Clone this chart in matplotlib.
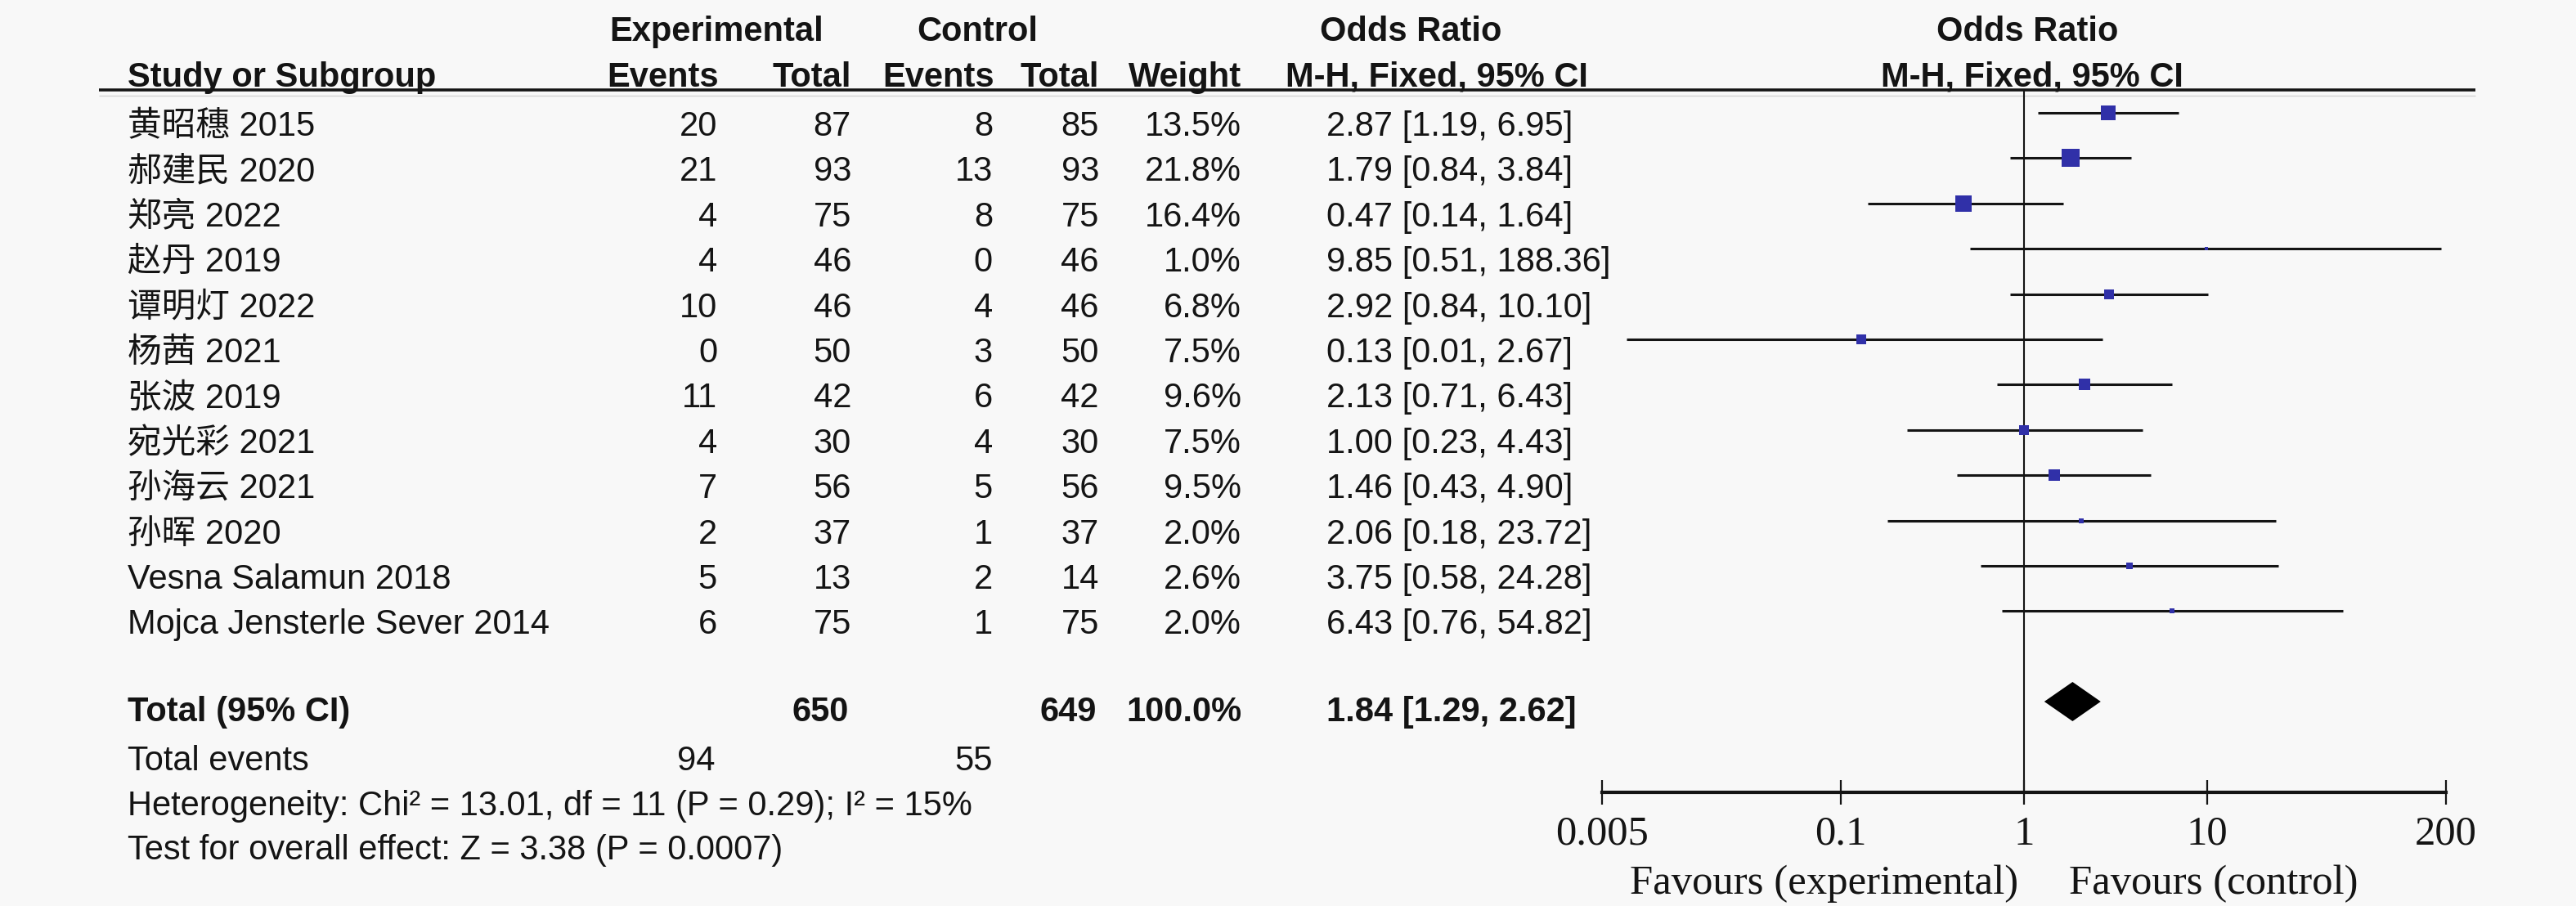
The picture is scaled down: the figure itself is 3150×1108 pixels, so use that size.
import matplotlib
matplotlib.use('Agg')
import matplotlib.pyplot as plt
import numpy as np

# study data
studies = ['黄昭穗 2015', '郝建民 2020', '郑亮 2022', '赵丹 2019', '谭明灯 2022', '杨茜 2021',
           '张波 2019', '宛光彩 2021', '孙海云 2021', '孙晖 2020', 'Vesna Salamun 2018',
           'Mojca Jensterle Sever 2014']
exp_events = [20, 21, 4, 4, 10, 0, 11, 4, 7, 2, 5, 6]
exp_total = [87, 93, 75, 46, 46, 50, 42, 30, 56, 37, 13, 75]
ctl_events = [8, 13, 8, 0, 4, 3, 6, 4, 5, 1, 2, 1]
ctl_total = [85, 93, 75, 46, 46, 50, 42, 30, 56, 37, 14, 75]
weight = [13.5, 21.8, 16.4, 1.0, 6.8, 7.5, 9.6, 7.5, 9.5, 2.0, 2.6, 2.0]
or_est = [2.87, 1.79, 0.47, 9.85, 2.92, 0.13, 2.13, 1.00, 1.46, 2.06, 3.75, 6.43]
ci_lo = [1.19, 0.84, 0.14, 0.51, 0.84, 0.0068, 0.71, 0.23, 0.43, 0.18, 0.58, 0.76]
ci_hi = [6.95, 3.84, 1.64, 188.36, 10.10, 2.67, 6.43, 4.43, 4.90, 23.72, 24.28, 54.82]

total_exp, total_ctl = 650, 649
events_exp, events_ctl = 94, 55
pooled = [1.84, 1.29, 2.62]
heterogeneity = 'Heterogeneity: Chi² = 13.01, df = 11 (P = 0.29); I² = 15%'
overall = 'Test for overall effect: Z = 3.38 (P = 0.0007)'
ticks = [0.005, 0.1, 1, 10, 200]
tick_labels = ['0.005', '0.1', '1', '10', '200']

W, H = 3150, 1108
bg = '#f8f8f8'
ink = '#141414'
blue = '#3030a8'
sans = ['Liberation Sans', 'Noto Sans CJK SC']
serif = 'Liberation Serif'
fs = 30

fig = plt.figure(figsize=(W / 100, H / 100), dpi=100, facecolor=bg)
tab = fig.add_axes([0, 0, 1, 1])
tab.set_xlim(0, W)
tab.set_ylim(H, 0)
tab.axis('off')


def put(x, y, s, ha='left', bold=False):
    tab.text(x, y, s, ha=ha, va='baseline', fontsize=fs, family=sans, color=ink,
             fontweight='bold' if bold else 'normal')


# column positions (pixels)
x_name = 156
x_ee, x_et, x_ce, x_ct, x_w, x_or = 877, 1041, 1214, 1344, 1518, 1622

# headers
put(876, 50, 'Experimental', ha='center', bold=True)
put(1195, 50, 'Control', ha='center', bold=True)
put(1725, 50, 'Odds Ratio', ha='center', bold=True)
put(2479, 50, 'Odds Ratio', ha='center', bold=True)
put(x_name, 106, 'Study or Subgroup', bold=True)
put(x_ee + 2, 106, 'Events', ha='right', bold=True)
put(x_et, 106, 'Total', ha='right', bold=True)
put(x_ce + 2, 106, 'Events', ha='right', bold=True)
put(x_ct, 106, 'Total', ha='right', bold=True)
put(x_w, 106, 'Weight', ha='right', bold=True)
put(1757, 106, 'M-H, Fixed, 95% CI', ha='center', bold=True)
put(2485, 106, 'M-H, Fixed, 95% CI', ha='center', bold=True)
tab.plot([121, 3027], [110, 110], color=ink, lw=2.6, solid_capstyle='butt')
tab.plot([121, 3027], [117, 117], color='#d4d4d4', lw=1.0, solid_capstyle='butt')

row0, dy = 138, 55.4
rows = row0 + dy * np.arange(len(studies))

for i, name in enumerate(studies):
    yb = rows[i] + 28
    put(x_name, yb, name)
    put(x_ee, yb, str(exp_events[i]), ha='right')
    put(x_et, yb, str(exp_total[i]), ha='right')
    put(x_ce, yb, str(ctl_events[i]), ha='right')
    put(x_ct, yb, str(ctl_total[i]), ha='right')
    put(x_w, yb, f'{weight[i]:.1f}%', ha='right')
    put(x_or, yb, f'{or_est[i]:.2f} [{ci_lo[i]:.2f}, {ci_hi[i]:.2f}]')

y_tot = 882
put(x_name, y_tot, 'Total (95% CI)', bold=True)
put(x_et - 3, y_tot, str(total_exp), ha='right', bold=True)
put(x_ct - 3, y_tot, str(total_ctl), ha='right', bold=True)
put(x_w, y_tot, '100.0%', ha='right', bold=True)
put(x_or, y_tot, f'{pooled[0]:.2f} [{pooled[1]:.2f}, {pooled[2]:.2f}]', bold=True)
put(x_name, 942, 'Total events')
put(x_ee - 2, 942, str(events_exp), ha='right')
put(x_ce, 942, str(events_ctl), ha='right')
put(x_name, 997, heterogeneity)
put(x_name, 1051, overall)

# forest panel
x0, x1 = 1959, 2991
ax = fig.add_axes([x0 / W, 0, (x1 - x0) / W, 1])
ax.patch.set_visible(False)
ax.set_xscale('log')
ax.set_xlim(0.005, 200)
ax.set_ylim(H, 0)
for s in ['top', 'left', 'right']:
    ax.spines[s].set_visible(False)
ax.spines['bottom'].set_position(('data', 969))
ax.spines['bottom'].set_linewidth(3)
ax.spines['bottom'].set_color(ink)
ax.set_yticks([])
ax.set_xticks(ticks)
ax.set_xticklabels(tick_labels, family=serif, fontsize=36.5, color=ink)
ax.xaxis.set_minor_locator(matplotlib.ticker.NullLocator())
ax.tick_params(axis='x', direction='inout', length=21, width=1.6, color=ink, pad=10)

ax.vlines(1, 110, 969, color=ink, lw=1.5)
for i in range(len(studies)):
    ax.plot([ci_lo[i], ci_hi[i]], [rows[i], rows[i]], color=ink, lw=2.2, solid_capstyle='butt')
    side = 4.7 * np.sqrt(weight[i]) * 0.72
    ax.plot(or_est[i], rows[i], 's', ms=side, color=blue, mec=blue, mew=0)

# pooled estimate diamond
yd = 858
ax.fill([pooled[1], pooled[0], pooled[2], pooled[0]], [yd, yd - 24, yd, yd + 24],
        color='black', lw=0)

ax.text(0.93, 1093, 'Favours (experimental)', ha='right', va='baseline',
        family=serif, fontsize=36.5, color=ink)
ax.text(1.75, 1093, 'Favours (control)', ha='left', va='baseline',
        family=serif, fontsize=36.5, color=ink)

fig.savefig('out.png', dpi=100, facecolor=bg)
